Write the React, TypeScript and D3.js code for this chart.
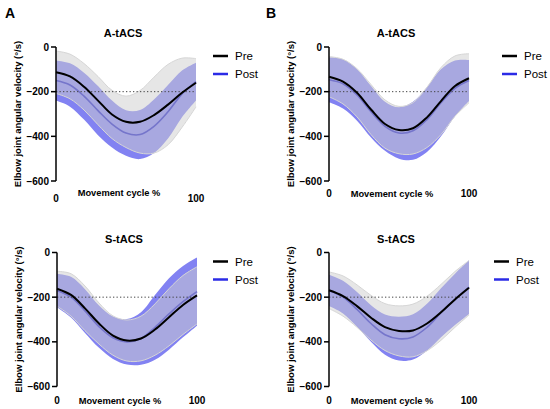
import * as d3 from "d3";

// movement cycle (%) sample points
const cycle = [0, 10, 20, 30, 40, 50, 60, 70, 80, 90, 100];
const yTicks = [0, -200, -400, -600];
const xTicks = [0, 100];

// A-tACS, panel A
const aPreMean = [-113, -132, -178, -240, -302, -335, -335, -305, -258, -205, -160];
const aPreSd = [95, 100, 104, 108, 108, 115, 140, 170, 180, 155, 108];
const aPostMean = [-150, -170, -220, -285, -345, -385, -392, -355, -290, -210, -155];
const aPostSd = [90, 97, 105, 110, 105, 102, 110, 120, 120, 105, 85];

// A-tACS, panel B
const bPreMean = [-133, -155, -205, -280, -345, -372, -364, -315, -242, -175, -140];
const bPreSd = [90, 100, 108, 112, 108, 106, 115, 135, 150, 135, 110];
const bPostMean = [-147, -165, -215, -290, -355, -385, -375, -325, -250, -185, -150];
const bPostSd = [100, 110, 115, 115, 110, 115, 130, 145, 150, 125, 92];

// S-tACS, panel A
const cPreMean = [-162, -190, -250, -318, -372, -394, -385, -345, -290, -235, -192];
const cPreSd = [78, 95, 100, 92, 88, 92, 100, 115, 128, 132, 128];
const cPostMean = [-170, -200, -262, -332, -382, -400, -385, -335, -275, -220, -175];
const cPostSd = [75, 91, 98, 95, 95, 102, 118, 145, 160, 160, 153];

// S-tACS, panel B
const dPreMean = [-169, -195, -240, -292, -334, -351, -349, -318, -268, -210, -158];
const dPreSd = [82, 90, 95, 100, 105, 112, 118, 122, 125, 125, 122];
const dPostMean = [-170, -200, -255, -318, -368, -386, -378, -335, -270, -210, -155];
const dPostSd = [70, 73, 78, 82, 90, 98, 101, 105, 110, 115, 120];

const FONT = "'Liberation Sans', Arial, sans-serif";
const PLOT_W = 140;
const PLOT_H = 134;

interface PanelProps {
  title: string;
  pre: number[];
  preSd: number[];
  post: number[];
  postSd: number[];
  left: number;
  top: number;
  legendX: number;
  tickDy: number;
  labelDy: number;
}

function Panel({ title, pre, preSd, post, postSd, left, top, legendX, tickDy, labelDy }: PanelProps) {
  const x = d3.scaleLinear().domain([0, 100]).range([left, left + PLOT_W]);
  const y = d3.scaleLinear().domain([-600, 0]).range([top + PLOT_H, top]);

  const band = d3
    .area<number>()
    .x((_, i) => x(cycle[i]))
    .curve(d3.curveCatmullRom);
  const line = d3
    .line<number>()
    .x((_, i) => x(cycle[i]))
    .y((d) => y(d))
    .curve(d3.curveCatmullRom);

  const preBand = band.y0((d, i) => y(d - preSd[i])).y1((d, i) => y(d + preSd[i]))(pre) || "";
  const postBand = band.y0((d, i) => y(d - postSd[i])).y1((d, i) => y(d + postSd[i]))(post) || "";
  const preUpper = line(pre.map((d, i) => d + preSd[i])) || "";
  const preLower = line(pre.map((d, i) => d - preSd[i])) || "";

  return (
    <g fontFamily={FONT}>
      <text x={left + PLOT_W / 2 - 3} y={top - 10} textAnchor="middle" fontSize={11} fontWeight="bold">
        {title}
      </text>

      {/* Post: mean ± SD */}
      <path d={postBand} fill="#8282f2" />
      <path d={line(post) || ""} fill="none" stroke="#1c1cc8" strokeWidth={1.6} />

      {/* Pre: mean ± SD, translucent over post */}
      <path d={preBand} fill="rgb(206,206,206)" fillOpacity={0.5} />
      <path d={preUpper} fill="none" stroke="#d6d6d6" strokeWidth={1} />
      <path d={preLower} fill="none" stroke="#d6d6d6" strokeWidth={1} />

      <line
        x1={x(0)}
        x2={x(100)}
        y1={y(-200)}
        y2={y(-200)}
        stroke="#444"
        strokeWidth={1}
        strokeDasharray="1.3,2.2"
      />
      <path d={line(pre) || ""} fill="none" stroke="#000" strokeWidth={2} />

      {/* y axis */}
      <line x1={left} x2={left} y1={y(0)} y2={y(-600)} stroke="#000" strokeWidth={1.5} />
      {yTicks.map((t) => (
        <g key={t}>
          <line x1={left - 5} x2={left} y1={y(t)} y2={y(t)} stroke="#000" strokeWidth={1.5} />
          <text x={left - 7} y={y(t)} dy="0.35em" textAnchor="end" fontSize={10} fontWeight="bold">
            {t === 0 ? "0" : `\u2212${Math.abs(t)}`}
          </text>
        </g>
      ))}
      <text
        transform={`translate(${left - 38},${top + PLOT_H / 2}) rotate(-90)`}
        textAnchor="middle"
        dy="0.35em"
        fontSize={9.5}
        fontWeight="bold"
      >
        Elbow joint angular velocity (°/s)
      </text>

      {/* x axis labels, no axis line */}
      {xTicks.map((t) => (
        <text key={t} x={x(t)} y={top + PLOT_H + tickDy} textAnchor="middle" fontSize={10} fontWeight="bold">
          {t}
        </text>
      ))}
      <text x={left + 63} y={top + PLOT_H + labelDy} textAnchor="middle" fontSize={9.3} fontWeight="bold">
        Movement cycle %
      </text>

      {/* legend */}
      <line x1={legendX} x2={legendX + 15} y1={top + 9} y2={top + 9} stroke="#000" strokeWidth={2.5} />
      <text x={legendX + 22} y={top + 13} fontSize={11.5}>
        Pre
      </text>
      <line x1={legendX} x2={legendX + 15} y1={top + 27} y2={top + 27} stroke="#2b2be6" strokeWidth={2.5} />
      <text x={legendX + 22} y={top + 31} fontSize={11.5}>
        Post
      </text>
    </g>
  );
}

export default function App() {
  return (
    <svg
      width={550}
      height={409}
      style={{ position: "absolute", left: 0, top: 0, background: "#fff" }}
    >
      <text x={5} y={18} fontFamily={FONT} fontSize={14} fontWeight="bold">
        A
      </text>
      <text x={266} y={18} fontFamily={FONT} fontSize={14} fontWeight="bold">
        B
      </text>
      <Panel title="A-tACS" pre={aPreMean} preSd={aPreSd} post={aPostMean} postSd={aPostSd}
        left={56} top={47} legendX={213} tickDy={21} labelDy={15} />
      <Panel title="A-tACS" pre={bPreMean} preSd={bPreSd} post={bPostMean} postSd={bPostSd}
        left={329} top={47} legendX={502} tickDy={16} labelDy={16} />
      <Panel title="S-tACS" pre={cPreMean} preSd={cPreSd} post={cPostMean} postSd={cPostSd}
        left={57} top={252.5} legendX={213} tickDy={17} labelDy={17} />
      <Panel title="S-tACS" pre={dPreMean} preSd={dPreSd} post={dPostMean} postSd={dPostSd}
        left={329} top={252.5} legendX={494} tickDy={17} labelDy={17} />
    </svg>
  );
}
